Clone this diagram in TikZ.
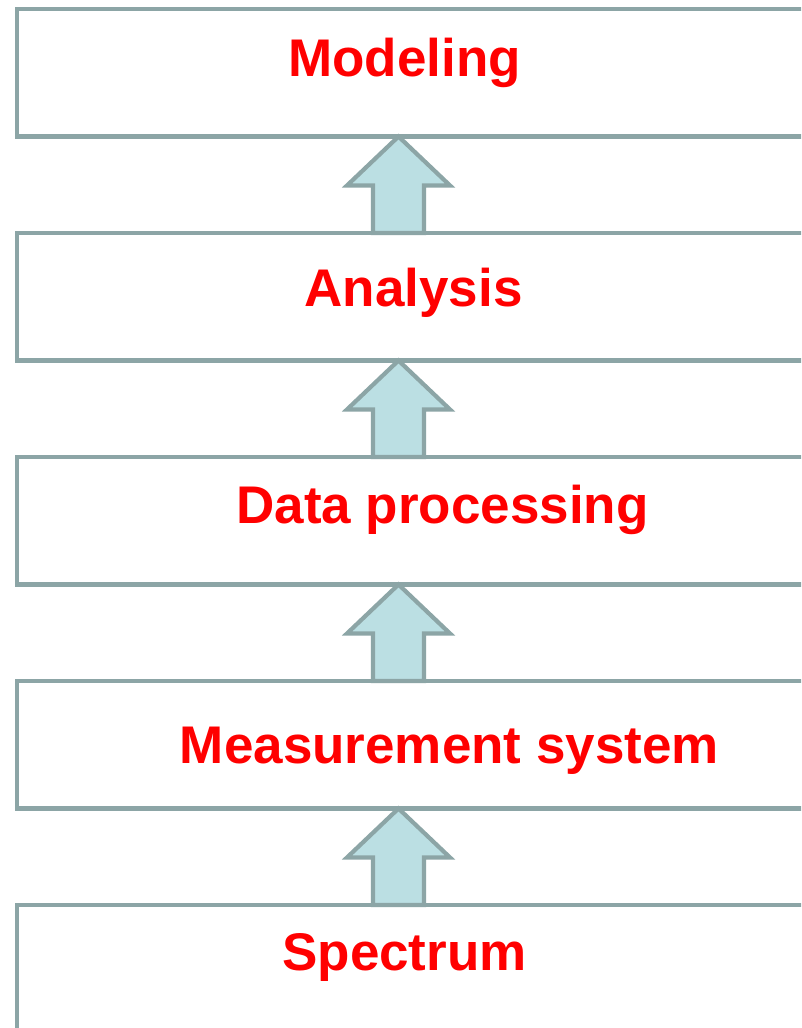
\documentclass[tikz,border=0pt]{standalone}
\usepackage{fontspec}
\setmainfont{Liberation Sans}
\usetikzlibrary{calc}
\definecolor{edge}{HTML}{8CA5A6}
\definecolor{afill}{HTML}{BBDFE3}
\definecolor{txt}{HTML}{FF0000}
\begin{document}
\begin{tikzpicture}[x=1pt,y=-1pt,
  layer/.style={draw=edge, line width=4.2pt, fill=white, minimum width=830pt,
    minimum height=127.5pt, inner sep=0pt, outer sep=0pt, anchor=north west},
  lbl/.style={text=txt, font=\fontsize{53}{60}\selectfont\bfseries, inner sep=0pt, anchor=base},
  uparrow/.style={draw=edge, fill=afill, line width=4.2pt, line join=miter}]
\useasboundingbox (0,0) rectangle (801,1028);
\clip (0,0) rectangle (801,1028);
\fill[white] (0,0) rectangle (801,1028);
\node[layer] (b1) at (17,9) {};
\node[layer] (b2) at (17,233) {};
\node[layer] (b3) at (17,457) {};
\node[layer] (b4) at (17,681) {};
\node[layer] (b5) at (17,905) {};
\foreach \a/\b in {b1/b2,b2/b3,b3/b4,b4/b5}{
  \draw[uparrow] let \p1=(\a.south), \p2=(\b.north) in
    (398.5pt,\y1) -- (450pt,\y1-49pt) -- (424pt,\y1-49pt) -- (424pt,\y2)
    -- (373pt,\y2) -- (373pt,\y1-49pt) -- (347pt,\y1-49pt) -- cycle;
}
\node[lbl] (t1) at (404.5,76) {Modeling};
\node[lbl] (t2) at (413.5,306) {Analysis};
\node[lbl] (t3) at (442.5,523) {Data processing};
\node[lbl] (t4) at (449.5,763) {Measurement system};
\node[lbl] (t5) at (404.5,970) {Spectrum};
\end{tikzpicture}
\end{document}
